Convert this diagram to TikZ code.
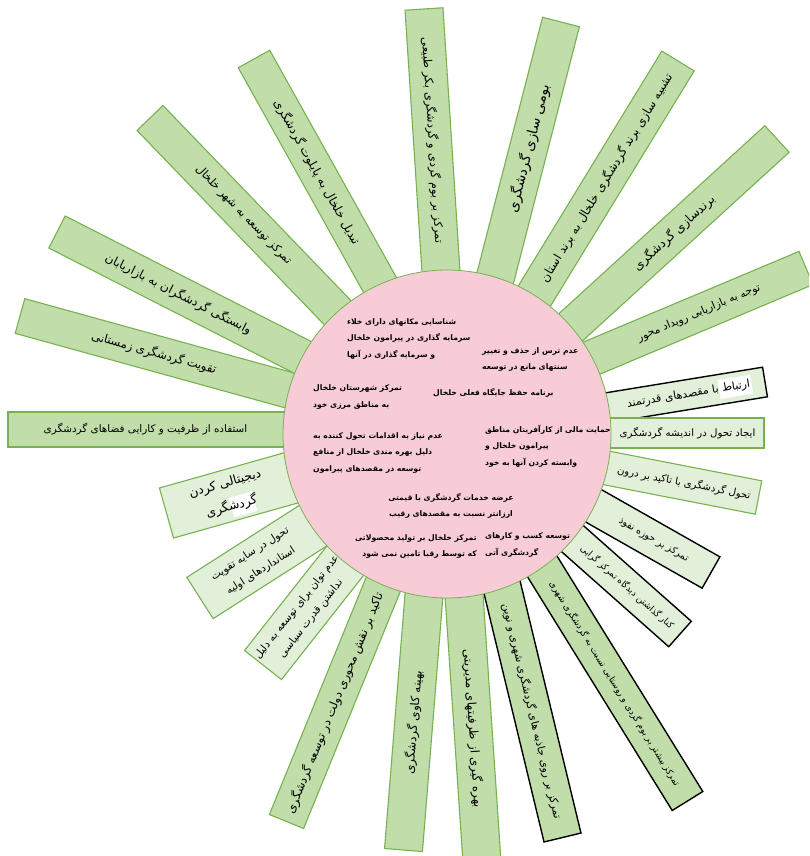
\documentclass[tikz,border=0pt]{standalone}
\usepackage{fontspec}
\newfontfamily\fa[Script=Arabic]{DejaVu Sans}
\TeXXeTstate=1
\usetikzlibrary{calc}
\definecolor{gmed}{HTML}{C0DDAA}
\definecolor{glight}{HTML}{E2EFD9}
\definecolor{gline}{HTML}{78B150}
\definecolor{pinkc}{HTML}{F8CCD7}
\newcommand\R[1]{\beginR #1\endR}
\tikzset{
 medbar/.style={fill=gmed, draw=gline, line width=1.1pt, line join=miter},
 litbar/.style={fill=glight, draw=gline, line width=1.1pt},
 medblk/.style={fill=gmed, draw=black, line width=1.4pt},
 litblk/.style={fill=glight, draw=black, line width=1.4pt},
 hilite/.style={fill=white},
 bartext/.style={inner sep=0pt, align=center},
 fs/.style={font=\fa\fontsize{#1}{14}\selectfont},
 fsb/.style 2 args={font=\fa\fontsize{#1}{#2}\selectfont},
 ctext/.style={font=\fa\bfseries\fontsize{7.7}{16.5}\selectfont, inner sep=0pt, align=left},
}
\newcommand\rbar[8][]{%
 \coordinate (#2o) at #3;
 \coordinate (#2i) at #4;
 \coordinate (#2e) at ($(#2i)!-14pt!(#2o)$);
 \path[#6] ($(#2o)!#5!90:(#2e)$) -- ($(#2o)!#5!-90:(#2e)$) -- ($(#2e)!#5!90:(#2o)$) -- ($(#2e)!#5!-90:(#2o)$) -- cycle;
 #1
 \path let \p1=($(#2i)-(#2o)$), \n1={atan2(\y1,\x1)}, \n2={\n1-180*(\n1 > 90)+180*(\n1 < -90)} in node[bartext,#7,rotate=\n2] (#2) at ($(#2o)!0.5!(#2i)$) {#8};
}
\begin{document}
\begin{tikzpicture}[x=1pt,y=-1pt]
\useasboundingbox (0,0) rectangle (809,856);
\fill[white] (0,0) rectangle (809,856);
\clip (0,0) rectangle (809,856);
\rbar{a1}{(8,429.5)}{(283,429.5)}{17.5pt}{medbar}{fs=10.4}{\R{استفاده از ظرفیت و کارایی فضاهای گردشگری}}
\rbar{a2}{(20,316)}{(288,390)}{18pt}{medbar}{fs=11.7}{\R{تقویت گردشگری زمستانی}}
\rbar{a3}{(57,232)}{(300,356)}{18pt}{medbar}{fs=12}{\R{وابستگی گردشگران به بازاریابان}}
\rbar{a4}{(150,118)}{(337,312)}{18pt}{medbar}{fs=11.4}{\R{تمرکز توسعه به شهر خلخال}}
\rbar{a5}{(254,59)}{(380,285)}{18pt}{medbar}{fs=12}{\R{تبدیل خلخال به پایلوت گردشگری}}
\rbar{a6}{(424,9)}{(441,272)}{19pt}{medbar}{fs=11.5}{\R{تمرکز بر بوم گردی و گردشگری بکر طبیعی}}
\rbar{a7}{(561,22)}{(496,275)}{19pt}{medbar}{fs=14}{\R{بومی سازی گردشگری}}
\rbar{a8}{(678,61)}{(535,295)}{19pt}{medbar}{fs=11.9}{\R{تشبیه سازی برند گردشگری خلخال به برند استان}}
\rbar{a9}{(777,139)}{(571,327)}{18pt}{medbar}{fs=12.3}{\R{برندسازی گردشگری}}
\rbar{a10}{(806,268)}{(592,358)}{18pt}{medbar}{fs=10.8}{\R{توجه به بازاریابی رویداد محور}}
\rbar[{\fill[hilite, rotate around={9.28:(688.5,394.5)}] (719.5,385) rectangle (752.5,404);}]{b1}{(765,382)}{(612,407)}{15pt}{litblk}{fs=11}{\R{ارتباط با مقصدهای قدرتمند}}
\rbar{b2}{(764,433)}{(611,433)}{15pt}{litbar}{fs=10.2}{\R{ایجاد تحول در اندیشه گردشگری}}
\rbar{b3}{(758.5,497.5)}{(609.5,468.5)}{17pt}{litbar}{fs=10.1}{\R{تحول گردشگری با تاکید بر درون}}
\rbar{b4}{(711,572.5)}{(596.5,507.5)}{18pt}{litblk}{fs=9.7}{\R{تمرکز بر حوزه نفوذ}}
\rbar{b5}{(680,634)}{(574,540)}{17pt}{litblk}{fs=9}{\R{کنار گذاشتن دیدگاه تمرکز گرایی}}
\rbar{b6}{(687.5,801)}{(542,566)}{18pt}{medblk}{fs=9}{\R{تمرکز بیشتر بر بوم گردی و روستایی نسبت به گردشگری شهری}}
\rbar{b7}{(562.5,837.5)}{(501.5,585)}{19pt}{medblk}{fs=10.8}{\R{تمرکز بر روی جاذبه های گردشگری شهری و نوین}}
\rbar{b8}{(482,862)}{(464,595)}{19pt}{medbar}{fs=12}{\R{بهره گیری از ظرفیتهای مدیریتی}}
\rbar{c1}{(403.5,850)}{(424,595)}{19pt}{medbar}{fs=11.9}{\R{بهینه کاوی گردشگری}}
\rbar{c2}{(286.5,821.5)}{(383,585)}{18.5pt}{medbar}{fs=11.9}{\R{تاکید بر نقش محوری دولت در توسعه گردشگری}}
\rbar{c3}{(263,665)}{(345,561)}{23.5pt}{litbar}{fsb={10.5}{18}}{\R{عدم توان برای توسعه به دلیل}\\\R{نداشتن قدرت سیاسی}}
\rbar{c4}{(200,598)}{(311,527)}{24.5pt}{litbar}{fsb={10.5}{20}}{\R{تحول در سایه تقویت}\\\R{استانداردهای اولیه}}
\rbar[{\fill[hilite, rotate around={15.76:(228.5,495.5)}] (228,498) rectangle (252,518);}]{c5}{(166.5,513)}{(290.5,478)}{26pt}{litbar}{fsb={12.5}{24}}{\R{دیجیتالی کردن}\\\R{گردشگری}}
\node[circle, fill=pinkc, draw=gline, line width=0.8pt, minimum size=328pt, inner sep=0pt] (hub) at (447,434) {};
\node[ctext, anchor=west] (t1) at (347,339) {\R{شناسایی مکانهای دارای خلاء}\\\R{سرمایه گذاری در پیرامون خلخال}\\\R{و سرمایه گذاری در آنها}};
\node[ctext, anchor=west] (t2) at (482,359.5) {\R{عدم ترس از حذف و تغییر}\\\R{سنتهای مانع در توسعه}};
\node[ctext, anchor=west] (t3) at (313,397) {\R{تمرکز شهرستان خلخال}\\\R{به مناطق مرزی خود}};
\node[ctext, anchor=west] (t4) at (433,393) {\R{برنامه حفظ جایگاه فعلی خلخال}};
\node[ctext, anchor=west] (t5) at (313,453) {\R{عدم نیاز به اقدامات تحول کننده به}\\\R{دلیل بهره مندی خلخال از منافع}\\\R{توسعه در مقصدهای پیرامون}};
\node[ctext, anchor=west] (t6) at (485,446) {\R{حمایت مالی از کارآفرینان مناطق}\\\R{پیرامون خلخال و}\\\R{وابسته کردن آنها به خود}};
\node[ctext, align=center] (t7) at (451,506) {\R{عرضه خدمات گردشگری با قیمتی}\\\R{ارزانتر نسبت به مقصدهای رقیب}};
\node[ctext, align=right, anchor=east] (t8) at (477,546.5) {\R{تمرکز خلخال بر تولید محصولاتی}\\\R{که توسط رقبا تامین نمی شود}};
\node[ctext, anchor=west] (t9) at (485,545) {\R{توسعه کسب و کارهای}\\\R{گردشگری آتی}};
\end{tikzpicture}
\end{document}
